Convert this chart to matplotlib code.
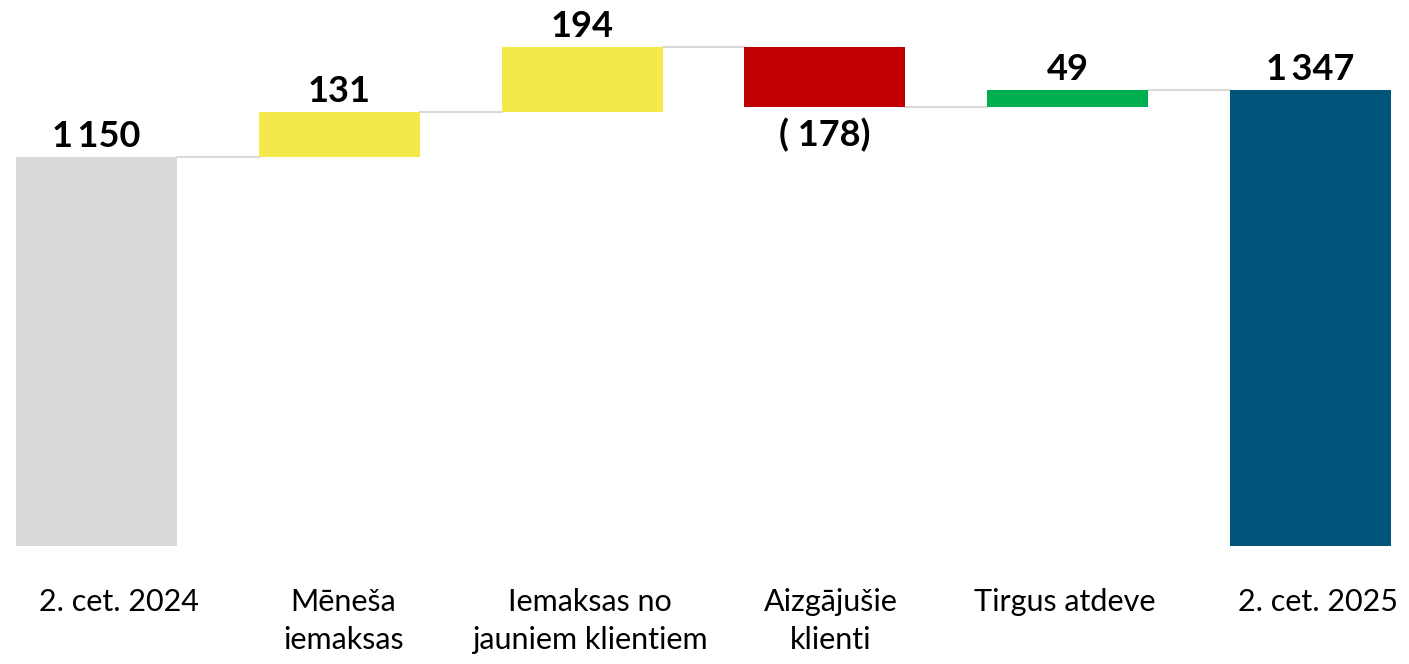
import matplotlib
matplotlib.use('Agg')
import matplotlib.pyplot as plt
import numpy as np

# data
categories = ['2. cet. 2024', 'Mēneša\niemaksas', 'Iemaksas no\njauniem klientiem',
              'Aizgājušie\nklienti', 'Tirgus atdeve', '2. cet. 2025']
values = [1150, 131, 194, -178, 49, 1347]
is_total = [True, False, False, False, False, True]
colors = ['#d9d9d9', '#f5e84a', '#f5e84a', '#c00000', '#00b050', '#00567a']

def fmt(v):
    s = '{:,}'.format(abs(v)).replace(',', '\u2009')
    return '( %s)' % s if v < 0 else s

# running totals -> bar bottoms / heights
bottoms, heights, levels = [], [], []
run = 0
for v, t in zip(values, is_total):
    if t:
        bottoms.append(0); heights.append(v); run = v
    else:
        bottoms.append(min(run, run + v)); heights.append(abs(v)); run += v
    levels.append(run)

fig = plt.figure(figsize=(14.09, 6.64), dpi=100)
ax = fig.add_axes([0, 118/664, 1, 546/664])
x = np.arange(len(values))
w = 0.663
ax.bar(x, heights, bottom=bottoms, width=w, color=colors, zorder=2)

# connectors
for i in range(len(values) - 1):
    ax.plot([x[i] + w/2, x[i+1] - w/2], [levels[i], levels[i]],
            color='#d9d9d9', lw=1.5, zorder=1)

# value labels
for i, v in enumerate(values):
    if v < 0:
        ax.annotate(fmt(v), (x[i], bottoms[i]), xytext=(0, -8), textcoords='offset points',
                    ha='center', va='top', fontsize=26, fontweight='bold', family='Lato')
    else:
        ax.annotate(fmt(v), (x[i], bottoms[i] + heights[i]), xytext=(0, 3),
                    textcoords='offset points', ha='center', va='bottom',
                    fontsize=26, fontweight='bold', family='Lato')

# category labels (first one sits a bit to the right in the original)
shift = [22, 4, 8, 6, -3, 7]
for i, c in enumerate(categories):
    fig.text((96.5 + 242.8*i + shift[i])/1409, 1 - 588/664, c, ha='center', va='top',
             fontsize=22, family='Lato', linespacing=1.45)

ax.set_xlim(-96.5/242.8, (1409 - 96.5)/242.8)
ax.set_ylim(0, 1613)
ax.axis('off')

plt.savefig('out.png', dpi=100)
